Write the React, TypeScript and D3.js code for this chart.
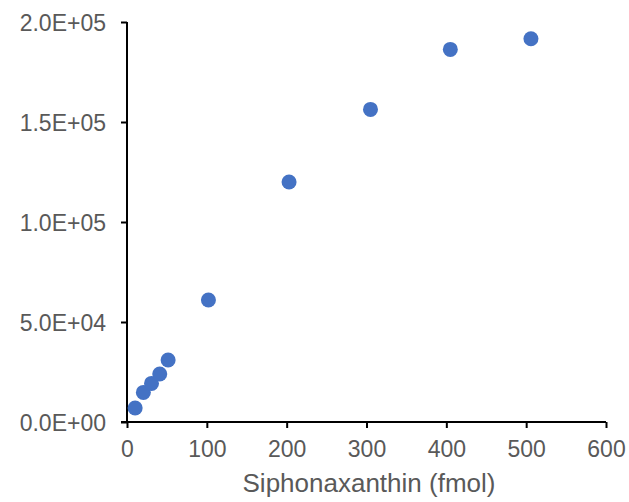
import { useEffect, useRef } from "react"
import * as d3 from "d3"

// Siphonaxanthin amount (fmol) vs. peak area
const amounts = [10.2, 20.5, 30.7, 41, 51.5, 102, 203, 305, 405, 506]
const areas = [7000, 14800, 19300, 24000, 31000, 61000, 120000, 156300, 186300, 191600]
const xTicks = [0, 100, 200, 300, 400, 500, 600]
const yTicks = [0, 50000, 100000, 150000, 200000]
const xTitle = "Siphonaxanthin (fmol)"

const W = 629
const H = 502
const margin = { top: 22, right: 23, bottom: 80, left: 127 }

export default function App() {
  const svgRef = useRef<SVGSVGElement>(null)

  useEffect(() => {
    if (!svgRef.current) return
    const svg = d3.select(svgRef.current)
    svg.selectAll("*").remove()

    const x = d3.scaleLinear().domain([0, 600]).range([margin.left, W - margin.right])
    const y = d3.scaleLinear().domain([0, 200000]).range([H - margin.bottom, margin.top])

    const font = "'Liberation Sans', Arial, sans-serif"
    const grey = "#595959"

    const fmt = (v: number) => {
      const [m, e] = v.toExponential(1).split("e")
      const exp = Math.abs(+e).toString().padStart(2, "0")
      return `${m}E${+e < 0 ? "-" : "+"}${exp}`
    }

    // y axis
    const yAxis = svg
      .append("g")
      .attr("transform", `translate(${margin.left},0)`)
      .call(d3.axisLeft(y).tickValues(yTicks).tickFormat((d) => fmt(+d)).tickSize(6).tickPadding(15))
    yAxis.select(".domain").attr("stroke", "#000").attr("stroke-width", 2).attr("d", `M0,${y(200000)}V${y(0)}`)
    yAxis.selectAll(".tick line").attr("stroke", "#000").attr("stroke-width", 2)
    yAxis
      .selectAll(".tick text")
      .attr("fill", grey)
      .attr("font-family", font)
      .attr("font-size", 23)
      .attr("dy", "0.35em")

    // x axis
    const xAxis = svg
      .append("g")
      .attr("transform", `translate(0,${y(0)})`)
      .call(d3.axisBottom(x).tickValues(xTicks).tickFormat((d) => String(d)).tickSize(6).tickPadding(13))
    xAxis.select(".domain").attr("stroke", "#000").attr("stroke-width", 2).attr("d", `M${x(0) - 6},0H${x(600)}`)
    xAxis.selectAll(".tick line").attr("stroke", "#000").attr("stroke-width", 2)
    xAxis
      .selectAll(".tick text")
      .attr("fill", grey)
      .attr("font-family", font)
      .attr("font-size", 23)

    svg
      .append("text")
      .attr("x", 369)
      .attr("y", 492)
      .attr("text-anchor", "middle")
      .attr("fill", grey)
      .attr("font-family", font)
      .attr("font-size", 26)
      .text(xTitle)

    svg
      .append("g")
      .selectAll("circle")
      .data(amounts.map((a, i) => [a, areas[i]]))
      .enter()
      .append("circle")
      .attr("cx", (d) => x(d[0]))
      .attr("cy", (d) => y(d[1]))
      .attr("r", 7.5)
      .attr("fill", "#4472C4")
  }, [])

  return (
    <svg
      ref={svgRef}
      width={W}
      height={H}
      style={{ position: "absolute", left: 0, top: 0, background: "#fff" }}
    />
  )
}
